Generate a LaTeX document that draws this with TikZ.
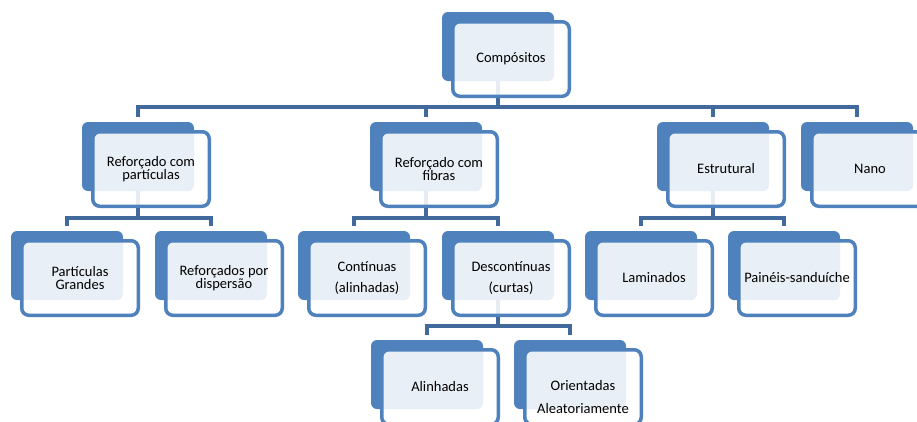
\documentclass[tikz,border=0pt]{standalone}
\usepackage{fontspec}
\setmainfont{Carlito}
\usetikzlibrary{calc}
\definecolor{boxblue}{HTML}{4F81BD}
\definecolor{linkblue}{HTML}{41699B}

\begin{document}
\begin{tikzpicture}[ x=1pt, y=-1pt,
      back/.style={fill=boxblue, rounded corners=6pt, minimum width=112pt, minimum height=69pt, inner sep=0pt},
      front/.style={draw=boxblue, line width=3.5pt, fill=white, fill opacity=0.88, text opacity=1,
                    rounded corners=7pt, minimum width=116.5pt, minimum height=74.5pt, inner sep=0pt,
                    align=center, font=\fontsize{14.5}{13.5}\selectfont},
      link/.style={draw=linkblue, line width=3.5pt}
      ]
      \useasboundingbox (0,0) rectangle (917,421);

      % back boxes
      \node[back] (comp) at (498,46.5) {};
      \node[back] (part) at (138,156.5) {};
      \node[back] (fib)  at (426,156.5) {};
      \node[back] (estr) at (713,156.5) {};
      \node[back] (nano) at (857,156.5) {};
      \node[back] (pg)   at (67,265.5) {};
      \node[back] (disp) at (211,265.5) {};
      \node[back] (cont) at (354,265.5) {};
      \node[back] (desc) at (498,265.5) {};
      \node[back] (lam)  at (641,265.5) {};
      \node[back] (pan)  at (784,265.5) {};
      \node[back] (alin) at (427,374.5) {};
      \node[back] (orie) at (570,374.5) {};

      % links
      \coordinate (busA) at (0,107);
      \coordinate (busB) at (0,218);
      \coordinate (busC) at (0,326);
      \draw[link] (comp.south) -- (comp.south |- busA) -| ($(part.north)+(0,-5)$);
      \draw[link] (comp.south) -- (comp.south |- busA) -| ($(fib.north)+(0,-5)$);
      \draw[link] (comp.south) -- (comp.south |- busA) -| ($(estr.north)+(0,-5)$);
      \draw[link] (comp.south) -- (comp.south |- busA) -| ($(nano.north)+(0,-5)$);
      \draw[link] (part.south) -- (part.south |- busB) -| ($(pg.north)+(0,-5)$);
      \draw[link] (part.south) -- (part.south |- busB) -| ($(disp.north)+(0,-5)$);
      \draw[link] (fib.south) -- (fib.south |- busB) -| ($(cont.north)+(0,-5)$);
      \draw[link] (fib.south) -- (fib.south |- busB) -| ($(desc.north)+(0,-5)$);
      \draw[link] (estr.south) -- (estr.south |- busB) -| ($(lam.north)+(0,-5)$);
      \draw[link] (estr.south) -- (estr.south |- busB) -| ($(pan.north)+(0,-5)$);
      \draw[link] (desc.south) -- (desc.south |- busC) -| ($(alin.north)+(0,-5)$);
      \draw[link] (desc.south) -- (desc.south |- busC) -| ($(orie.north)+(0,-5)$);

      % front boxes
      \node[front] (comp-f) at ($(comp)+(13,12.5)$) {Compósitos};
      \node[front] (part-f) at ($(part)+(13,12.5)$) {Reforçado com\\partículas};
      \node[front] (fib-f)  at ($(fib)+(13,12.5)$)  {Reforçado com\\fibras};
      \node[front] (estr-f) at ($(estr)+(13,12.5)$) {Estrutural};
      \node[front] (nano-f) at ($(nano)+(13,12.5)$) {Nano};
      \node[front] (pg-f)   at ($(pg)+(13,12.5)$)   {Partículas\\Grandes};
      \node[front] (disp-f) at ($(disp)+(13,12.5)$) {Reforçados por\\dispersão};
      \node[front] (cont-f) at ($(cont)+(13,12.5)$) {Contínuas\\[8pt](alinhadas)};
      \node[front] (desc-f) at ($(desc)+(13,12.5)$) {Descontínuas\\[8pt](curtas)};
      \node[front] (lam-f)  at ($(lam)+(13,12.5)$)  {Laminados};
      \node[front] (pan-f)  at ($(pan)+(13,12.5)$)  {Painéis-sanduíche};
      \node[front] (alin-f) at ($(alin)+(13,12.5)$) {Alinhadas};
      \node[front] (orie-f) at ($(orie)+(13,12.5)$) {\rule{0pt}{30pt}Orientadas\\[10pt]Aleatoriamente};
    \end{tikzpicture}
\end{document}
